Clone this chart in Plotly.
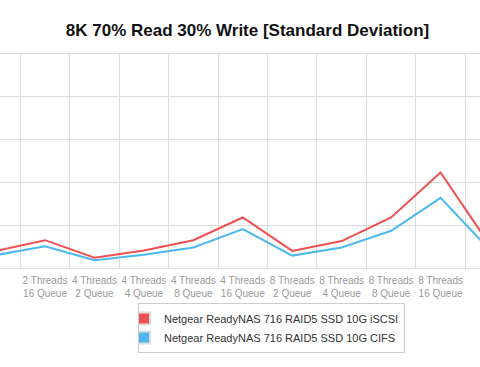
import plotly.graph_objects as go

categories = [
    "2 Threads<br>8 Queue", "2 Threads<br>16 Queue", "4 Threads<br>2 Queue", "4 Threads<br>4 Queue",
    "4 Threads<br>8 Queue", "4 Threads<br>16 Queue", "8 Threads<br>2 Queue", "8 Threads<br>4 Queue",
    "8 Threads<br>8 Queue", "8 Threads<br>16 Queue", "16 Threads<br>2 Queue",
]
iscsi = [0.40, 0.65, 0.24, 0.41, 0.65, 1.18, 0.40, 0.63, 1.18, 2.23, 0.53]
cifs = [0.30, 0.51, 0.18, 0.31, 0.48, 0.91, 0.29, 0.48, 0.87, 1.64, 0.42]
series_names = ["Netgear ReadyNAS 716 RAID5 SSD 10G iSCSI", "Netgear ReadyNAS 716 RAID5 SSD 10G CIFS"]
colors = ["#EF5050", "#4DB8EE"]

fig = go.Figure()
for name, vals, col in zip(series_names, [iscsi, cifs], colors):
    fig.add_trace(go.Scatter(x=categories, y=vals, mode="lines", line=dict(color=col, width=2),
                             showlegend=False, hoverinfo="skip"))
for name, col in zip(series_names, colors):
    fig.add_trace(go.Scatter(x=[None], y=[None], mode="markers", name=name,
                             marker=dict(symbol="square", size=13, color=col,
                                         line=dict(color="#dddddd", width=1))))

fig.update_layout(
    width=480, height=367,
    margin=dict(l=0, r=0, t=54, b=99),
    paper_bgcolor="white", plot_bgcolor="white",
    title=dict(text="<b>8K 70% Read 30% Write [Standard Deviation]</b>", x=247.5 / 480, xanchor="center",
               y=1 - 30 / 367, yanchor="middle",
               font=dict(family="Liberation Sans, Arial, sans-serif", size=17, color="#111111")),
    xaxis=dict(type="category", tickson="boundaries", range=[0.089, 9.798], showgrid=True,
               gridcolor="#dddddd", gridwidth=1, ticks="", showline=True, mirror=True,
               linecolor="#dddddd", linewidth=1, zeroline=False,
               tickangle=0, automargin=False, ticklabelstandoff=3,
               tickfont=dict(family="Liberation Sans, Arial, sans-serif", size=10, color="#999999")),
    yaxis=dict(range=[0, 5], dtick=1, showgrid=True, gridcolor="#dddddd", gridwidth=1,
               showticklabels=False, zeroline=False,
               showline=False, ticks="", automargin=False),
    legend=dict(x=138 / 480, xanchor="left", y=(268 - 303) / 214, yanchor="top",
                bordercolor="#cccccc", borderwidth=1, bgcolor="white", indentation=-15,
                font=dict(family="Liberation Sans, Arial, sans-serif", size=11, color="#333333"),
                tracegroupgap=0, itemsizing="constant"),
)
fig.write_html("out.html", config={"displayModeBar": False, "staticPlot": True},
               post_script="document.body.style.margin='0';document.body.style.overflow='hidden';")
